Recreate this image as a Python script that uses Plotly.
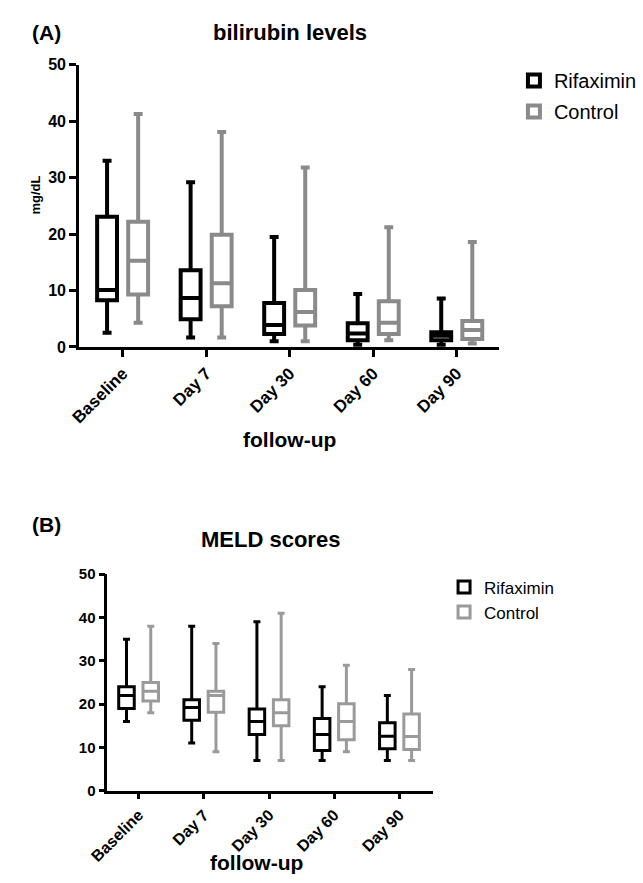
import plotly.graph_objects as go

W, H = 643, 883

categories = ["Baseline", "Day 7", "Day 30", "Day 60", "Day 90"]

# Panel A: bilirubin levels (mg/dL)
bili_rif_min = [2.5, 1.7, 1.0, 0.4, 0.4]
bili_rif_q1 = [8.3, 4.9, 2.3, 1.2, 1.2]
bili_rif_med = [10.1, 8.7, 3.9, 2.4, 2.0]
bili_rif_q3 = [23.1, 13.6, 7.8, 4.2, 2.6]
bili_rif_max = [33.0, 29.2, 19.5, 9.4, 8.6]

bili_ctl_min = [4.3, 1.7, 1.0, 1.2, 0.6]
bili_ctl_q1 = [9.3, 7.2, 3.8, 2.3, 1.4]
bili_ctl_med = [15.3, 11.3, 6.2, 4.3, 3.0]
bili_ctl_q3 = [22.2, 19.9, 10.1, 8.1, 4.6]
bili_ctl_max = [41.3, 38.1, 31.8, 21.2, 18.6]

# Panel B: MELD scores
meld_rif_min = [16, 11, 7, 7, 7]
meld_rif_q1 = [19, 16.3, 13, 9.3, 9.7]
meld_rif_med = [22, 19.2, 16, 13, 12.6]
meld_rif_q3 = [24, 21, 18.9, 16.7, 15.7]
meld_rif_max = [35, 38, 39, 24, 22]

meld_ctl_min = [18, 9, 7, 9, 7]
meld_ctl_q1 = [20.7, 18.1, 15, 11.8, 9.5]
meld_ctl_med = [23, 22, 18, 16, 12.5]
meld_ctl_q3 = [25, 23, 21, 20.1, 17.7]
meld_ctl_max = [38, 34, 41, 29, 28]

y_ticks = [0, 10, 20, 30, 40, 50]

BLACK = "#000000"
GREY_A = "#8a8a8a"
GREY_B = "#9a9a9a"
FONT = "Arial, Liberation Sans, Helvetica, sans-serif"


def px_x(v):
    return v / W


def px_y(v):
    return 1 - v / H


fig = go.Figure()


def add_box(name, mn, q1, med, q3, mx, color, lw, xa, ya, leg, agroup, ogroup):
    fig.add_trace(go.Box(
        name=name, x=categories, q1=q1, median=med, q3=q3,
        lowerfence=mn, upperfence=mx,
        line=dict(color=color, width=lw), fillcolor="white",
        whiskerwidth=0.45, boxpoints=False,
        xaxis=xa, yaxis=ya, legend=leg, legendgroup=agroup + ogroup,
        alignmentgroup=agroup, offsetgroup=ogroup,
        hoverinfo="skip",
    ))


add_box("Rifaximin", bili_rif_min, bili_rif_q1, bili_rif_med, bili_rif_q3, bili_rif_max,
        BLACK, 4, "x", "y", "legend", "A", "rif")
add_box("Control", bili_ctl_min, bili_ctl_q1, bili_ctl_med, bili_ctl_q3, bili_ctl_max,
        GREY_A, 4, "x", "y", "legend", "A", "ctl")
add_box("Rifaximin", meld_rif_min, meld_rif_q1, meld_rif_med, meld_rif_q3, meld_rif_max,
        BLACK, 3, "x2", "y2", "legend2", "B", "rif")
add_box("Control", meld_ctl_min, meld_ctl_q1, meld_ctl_med, meld_ctl_q3, meld_ctl_max,
        GREY_B, 3, "x2", "y2", "legend2", "B", "ctl")

axis_common = dict(showgrid=False, zeroline=False, showline=True, linecolor=BLACK,
                   ticks="outside", tickcolor=BLACK, fixedrange=True)

fig.update_layout(
    width=W, height=H,
    margin=dict(l=0, r=0, t=0, b=0),
    paper_bgcolor="white", plot_bgcolor="white",
    boxmode="group", boxgap=0.256, boxgroupgap=0.36,
    font=dict(family=FONT, color=BLACK),
    xaxis=dict(**axis_common, domain=[px_x(62), px_x(495)], range=[-0.52, 4.51],
               anchor="y", linewidth=3, tickwidth=3, ticklen=7, tickangle=-45,
               tickfont=dict(size=17, weight="bold", family=FONT)),
    yaxis=dict(**axis_common, domain=[px_y(345), px_y(57)], range=[0, 50],
               anchor="x", tickvals=y_ticks, linewidth=3, tickwidth=3, ticklen=7,
               tickfont=dict(size=16, weight="bold", family=FONT)),
    xaxis2=dict(**axis_common, domain=[px_x(91), px_x(427)], range=[-0.48, 4.52],
                anchor="y2", linewidth=2.5, tickwidth=2.5, ticklen=6, tickangle=-45,
                tickfont=dict(size=16, weight="bold", family=FONT)),
    yaxis2=dict(**axis_common, domain=[px_y(798), px_y(577)], range=[0, 50],
                anchor="x2", tickvals=y_ticks, linewidth=2.5, tickwidth=2.5, ticklen=6,
                tickfont=dict(size=15, weight="bold", family=FONT)),
    legend=dict(x=px_x(510), y=px_y(53), xanchor="left", yanchor="top",
                font=dict(size=20, family=FONT), bgcolor="rgba(0,0,0,0)",
                tracegroupgap=2, itemclick=False, itemdoubleclick=False),
    legend2=dict(x=px_x(438), y=px_y(572), xanchor="left", yanchor="top",
                 font=dict(size=17, family=FONT), bgcolor="rgba(0,0,0,0)",
                 tracegroupgap=0, itemclick=False, itemdoubleclick=False),
)

annots = [
    dict(text="(A)", x=px_x(11), y=px_y(24), xanchor="left", size=21),
    dict(text="bilirubin levels", x=px_x(279), y=px_y(24), xanchor="center", size=22),
    dict(text="follow-up", x=px_x(279), y=px_y(439), xanchor="center", size=21),
    dict(text="(B)", x=px_x(11), y=px_y(526), xanchor="left", size=21),
    dict(text="MELD scores", x=px_x(259), y=px_y(542), xanchor="center", size=22),
    dict(text="follow-up", x=px_x(245), y=px_y(871), xanchor="center", size=21),
]
for a in annots:
    fig.add_annotation(text=a["text"], x=a["x"], y=a["y"], xref="paper", yref="paper",
                       xanchor=a["xanchor"], yanchor="middle", showarrow=False,
                       font=dict(size=a["size"], weight="bold", family=FONT, color=BLACK))

fig.add_annotation(text="mg/dL", x=px_x(17), y=px_y(190), xref="paper", yref="paper",
                   xanchor="center", yanchor="middle", showarrow=False, textangle=-90,
                   font=dict(size=13, weight="bold", family=FONT, color=BLACK))

fig.write_html("out.html", config={"displayModeBar": False},
               post_script="document.body.style.margin='0';")
